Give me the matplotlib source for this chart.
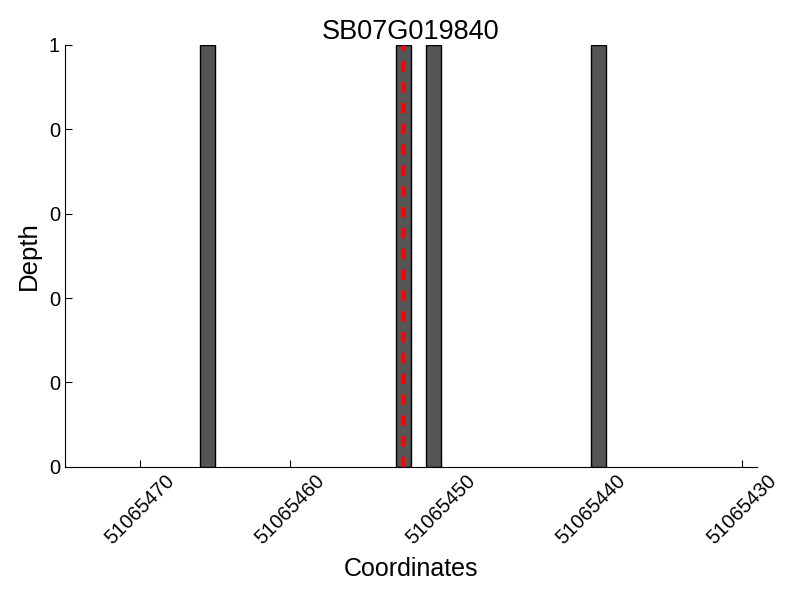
import matplotlib
matplotlib.use('Agg')
import matplotlib.pyplot as plt
from matplotlib.ticker import FormatStrFormatter

plt.rcParams['font.family'] = ['Liberation Sans', 'DejaVu Sans']

title = 'SB07G019840'
positions = [51065465, 51065452, 51065450, 51065439]
depths = [1, 1, 1, 1]
marker_pos = 51065452.5
xticks = [51065470, 51065460, 51065450, 51065440, 51065430]
yticks = [0, 0.2, 0.4, 0.6, 0.8, 1.0]

fig = plt.figure(figsize=(8, 6), dpi=100)
ax = fig.add_axes([0.081, 0.222, 0.865, 0.703])

ax.bar(positions, depths, width=1, align='edge', color='#555555',
       edgecolor='black', linewidth=1)
ax.axvline(marker_pos, color='red', linestyle='--', linewidth=2.5, dashes=(3, 3))

ax.set_xlim(51065475, 51065429)
ax.set_ylim(0, 1)
ax.set_xticks(xticks)
ax.set_yticks(yticks)
ax.xaxis.set_major_formatter(FormatStrFormatter('%d'))
ax.yaxis.set_major_formatter(FormatStrFormatter('%d'))
plt.setp(ax.get_xticklabels(), rotation=45, ha='center', rotation_mode='default')

ax.spines['top'].set_visible(False)
ax.spines['right'].set_visible(False)
ax.tick_params(direction='in', length=5, labelsize=14.5)

ax.set_title(title, fontsize=19.5, pad=2)
ax.set_xlabel('Coordinates', fontsize=18, labelpad=6)
ax.set_ylabel('Depth', fontsize=18.5, labelpad=6)

fig.savefig('out.png', dpi=100)
